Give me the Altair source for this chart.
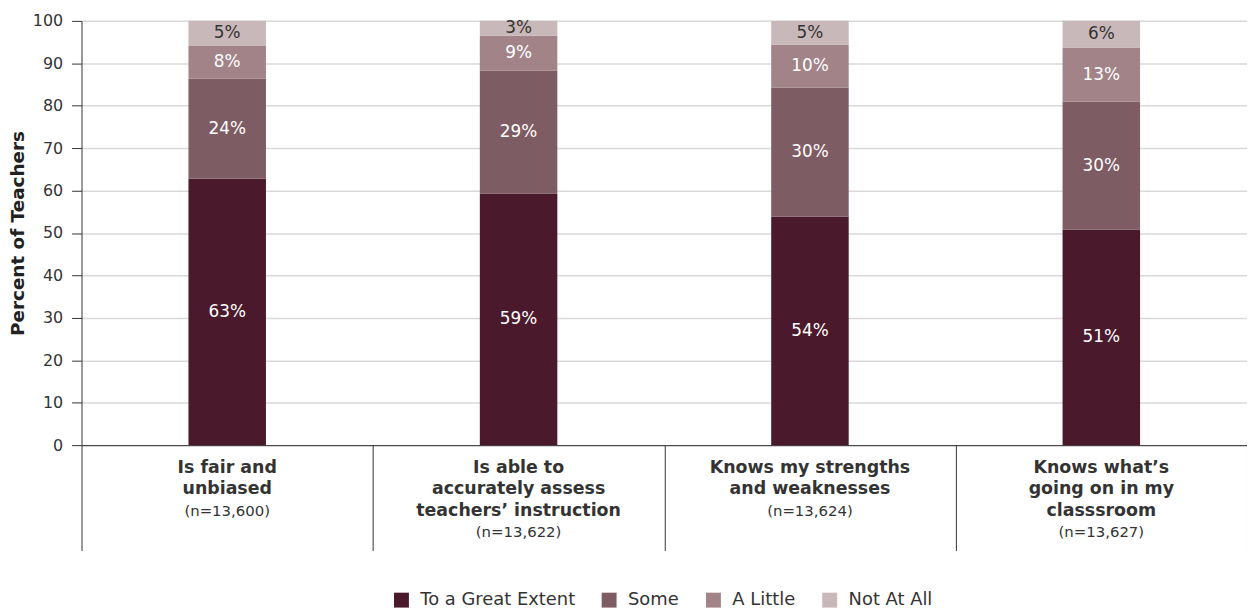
import altair as alt
import pandas as pd

categories = ["Is fair and unbiased",
              "Is able to accurately assess teachers’ instruction",
              "Knows my strengths and weaknesses",
              "Knows what’s going on in my classsroom"]
category_lines = [["Is fair and", "unbiased"],
                  ["Is able to", "accurately assess", "teachers’ instruction"],
                  ["Knows my strengths", "and weaknesses"],
                  ["Knows what’s", "going on in my", "classsroom"]]
n_labels = ["(n=13,600)", "(n=13,622)", "(n=13,624)", "(n=13,627)"]

responses = ["To a Great Extent", "Some", "A Little", "Not At All"]
great = [62.8, 59.3, 53.9, 50.8]
some = [23.6, 29.0, 30.4, 30.2]
little = [7.7, 8.2, 10.1, 12.7]
not_at_all = [5.9, 3.5, 5.6, 6.3]
label_great = ["63%", "59%", "54%", "51%"]
label_some = ["24%", "29%", "30%", "30%"]
label_little = ["8%", "9%", "10%", "13%"]
label_not = ["5%", "3%", "5%", "6%"]
colors = ["#4a1a2c", "#7d5c63", "#a28488", "#c9b8b9"]

FONT = "DejaVu Sans"
W, H = 1173, 427

series = [great, some, little, not_at_all]
labels = [label_great, label_some, label_little, label_not]
rows = []
for i, cat in enumerate(categories):
    base = 0.0
    for j, resp in enumerate(responses):
        v = series[j][i]
        rows.append({"cat": cat, "resp": resp, "ord": j, "value": v,
                     "y0": base, "y1": base + v, "mid": base + v / 2,
                     "label": labels[j][i]})
        base += v
df = pd.DataFrame(rows)

cat_df = pd.DataFrame({"cat": categories,
                       "text": ["\n".join(l) for l in category_lines],
                       "nlines": [len(l) for l in category_lines],
                       "n": n_labels})

xscale = alt.Scale(domain=categories, paddingInner=0, paddingOuter=0)
yscale = alt.Scale(domain=[0, 100], nice=False)

x_enc = alt.X("cat:N", scale=xscale, sort=categories,
              axis=alt.Axis(title=None, labels=False, tickBand="extent",
                            tickSize=106, tickColor="#333333", domainColor="#333333",
                            tickWidth=1, domainWidth=1, grid=False))

bars = alt.Chart(df).mark_bar(width=78).encode(
    x=x_enc,
    y=alt.Y("y0:Q", scale=yscale,
            axis=alt.Axis(title="Percent of Teachers", values=list(range(0, 101, 10)),
                          grid=True, gridColor="#d9d9d9", gridWidth=1.5,
                          tickSize=10, tickColor="#333333", domainColor="#333333",
                          labelFontSize=16, labelColor="#333333", labelFont=FONT,
                          labelPadding=9, titleFont=FONT, titleFontSize=18.5,
                          titleFontWeight="bold", titleColor="#222222",
                          titlePadding=5)),
    y2="y1:Q",
    color=alt.Color("resp:N", scale=alt.Scale(domain=responses, range=colors),
                    legend=alt.Legend(orient="none", legendX=313, legendY=574,
                                      direction="horizontal", title=None,
                                      symbolType="square", symbolSize=225,
                                      symbolStrokeWidth=0, labelFontSize=18,
                                      labelFont=FONT, labelColor="#333333",
                                      columnPadding=25, labelOffset=10, padding=0)),
    order=alt.Order("ord:Q"),
)

seg_text = alt.Chart(df).mark_text(fontSize=17, font=FONT, baseline="middle").encode(
    x=alt.X("cat:N", scale=xscale, sort=categories),
    y=alt.Y("mid:Q", scale=yscale),
    text="label:N",
    color=alt.condition(alt.datum.resp == "Not At All",
                        alt.value("#333333"), alt.value("white")),
)

cat_text = alt.Chart(cat_df).mark_text(fontSize=17.5, font=FONT, fontWeight="bold",
                                       baseline="top", lineHeight=21.5, lineBreak="\n",
                                       color="#333333").encode(
    x=alt.X("cat:N", scale=xscale, sort=categories),
    y=alt.value(H + 14),
    text="text:N",
)

n_layers = []
for k in sorted(set(cat_df["nlines"])):
    n_layers.append(
        alt.Chart(cat_df).transform_filter(alt.datum.nlines == k)
        .mark_text(fontSize=15, font=FONT, baseline="top", color="#333333")
        .encode(x=alt.X("cat:N", scale=xscale, sort=categories),
                y=alt.value(H + 16 + 21.5 * k),
                text="n:N")
    )

chart = alt.layer(bars, seg_text, cat_text, *n_layers).properties(
    width=W, height=H,
    autosize=alt.AutoSizeParams(type="none"),
    padding={"left": 74, "top": 11, "right": 0, "bottom": 168},
).configure_view(stroke=None)

chart.save("out.html", embed_options={"renderer": "svg", "actions": False})
